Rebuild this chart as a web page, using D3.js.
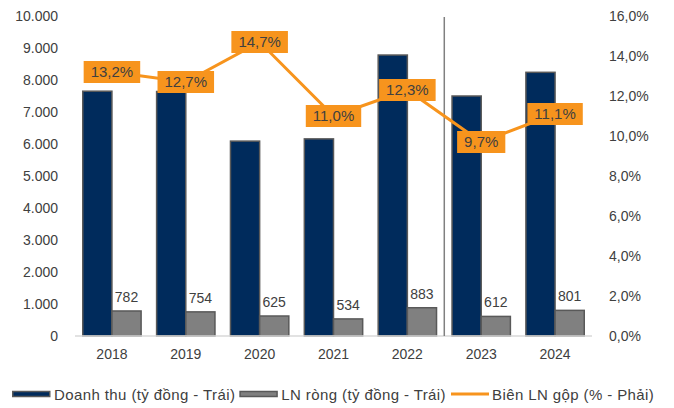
<!DOCTYPE html>
<html>
<head>
<meta charset="utf-8">
<script src="https://cdn.jsdelivr.net/npm/d3@7"></script>
<style>
  body { margin: 0; background: #fff; }
  svg { font-family: "Liberation Sans", Arial, sans-serif; }
</style>
</head>
<body>
<div id="chart"></div>
<script>
// data
var years = ["2018", "2019", "2020", "2021", "2022", "2023", "2024"];
var revenue = [7650, 7640, 6090, 6160, 8780, 7500, 8240];
var netProfit = [782, 754, 625, 534, 883, 612, 801];
var grossMargin = [13.2, 12.7, 14.7, 11.0, 12.3, 9.7, 11.1];
var leftTicks = [0, 1000, 2000, 3000, 4000, 5000, 6000, 7000, 8000, 9000, 10000];
var rightTicks = [0, 2, 4, 6, 8, 10, 12, 14, 16];
var legendItems = ["Doanh thu (tỷ đồng - Trái)", "LN ròng (tỷ đồng - Trái)", "Biên LN gộp (% - Phải)"];

var W = 674, H = 408;
var margin = { top: 16, left: 75, right: 82, bottom: 72 };
var width = W - margin.left - margin.right,
  height = H - margin.top - margin.bottom;

var textCol = "#404040";
var navy = "#002b5c", grey = "#808080", orange = "#f7941d";

var svg = d3.select("#chart")
  .append("svg")
  .attr("width", W)
  .attr("height", H);

var g = svg.append("g")
  .attr("transform", "translate(" + margin.left + "," + margin.top + ")");

var x = d3.scaleBand()
  .domain(years)
  .range([0, width])
  .paddingInner(0.21)
  .paddingOuter(0.105);

var sub = d3.scaleBand()
  .domain(["rev", "np"])
  .range([0, x.bandwidth()]);

var yL = d3.scaleLinear().domain([0, 10000]).range([height, 0]);
var yR = d3.scaleLinear().domain([0, 16]).range([height, 0]);

// left axis
var fmtL = function (d) { return d3.format(",")(d).replace(/,/g, "."); };
var axL = g.append("g")
  .attr("transform", "translate(-14,0)")
  .call(d3.axisLeft(yL).tickValues(leftTicks).tickFormat(fmtL).tickSize(0));
axL.select(".domain").remove();

// right axis
var fmtR = function (d) { return d3.format(".1f")(d).replace(".", ",") + "%"; };
var axR = g.append("g")
  .attr("transform", "translate(" + (width + 14) + ",0)")
  .call(d3.axisRight(yR).tickValues(rightTicks).tickFormat(fmtR).tickSize(0));
axR.select(".domain").remove();

svg.selectAll(".tick text")
  .attr("fill", textCol)
  .style("font-size", "14px")
  .style("font-family", "Liberation Sans, Arial, sans-serif");

// bars
var groups = g.selectAll(".yr")
  .data(years)
  .enter()
  .append("g")
  .attr("transform", function (d) { return "translate(" + x(d) + ",0)"; });

groups.append("rect")
  .attr("x", sub("rev"))
  .attr("width", sub.bandwidth())
  .attr("y", function (d, i) { return yL(revenue[i]); })
  .attr("height", function (d, i) { return height - yL(revenue[i]); })
  .attr("fill", navy)
  .attr("stroke", "#595959")
  .attr("stroke-width", 1.5);

groups.append("rect")
  .attr("x", sub("np"))
  .attr("width", sub.bandwidth())
  .attr("y", function (d, i) { return yL(netProfit[i]); })
  .attr("height", function (d, i) { return height - yL(netProfit[i]); })
  .attr("fill", grey)
  .attr("stroke", "#595959")
  .attr("stroke-width", 1.5);

groups.append("text")
  .attr("x", sub("np") + sub.bandwidth() / 2)
  .attr("y", function (d, i) { return yL(netProfit[i]) - 9; })
  .attr("text-anchor", "middle")
  .attr("fill", textCol)
  .style("font-size", "14px")
  .text(function (d, i) { return netProfit[i]; });

// baseline
g.append("line")
  .attr("x1", 0).attr("x2", width)
  .attr("y1", height).attr("y2", height)
  .attr("stroke", "#d9d9d9")
  .attr("stroke-width", 1.5);

// separator between actual and forecast
var sepX = x("2023") - x.step() * x.paddingInner() / 2;
g.append("line")
  .attr("x1", sepX).attr("x2", sepX)
  .attr("y1", 1).attr("y2", height)
  .attr("stroke", "#808080")
  .attr("stroke-width", 1.5);

// x labels
g.selectAll(".xl")
  .data(years)
  .enter()
  .append("text")
  .attr("x", function (d) { return x(d) + x.bandwidth() / 2; })
  .attr("y", height + 23)
  .attr("text-anchor", "middle")
  .attr("fill", textCol)
  .style("font-size", "14px")
  .text(function (d) { return d; });

// margin line
var cx = function (d, i) { return x(years[i]) + x.bandwidth() / 2; };
var line = d3.line()
  .x(function (d, i) { return cx(d, i); })
  .y(function (d) { return yR(d); });

g.append("path")
  .datum(grossMargin)
  .attr("d", line)
  .attr("fill", "none")
  .attr("stroke", orange)
  .attr("stroke-width", 3);

var lbl = g.selectAll(".ml")
  .data(grossMargin)
  .enter()
  .append("g")
  .attr("transform", function (d, i) { return "translate(" + cx(d, i) + "," + yR(d) + ")"; });

lbl.append("rect").attr("fill", orange);
lbl.append("text")
  .attr("text-anchor", "middle")
  .attr("dy", "0.36em")
  .attr("fill", textCol)
  .style("font-size", "15px")
  .text(function (d) { return d3.format(".1f")(d).replace(".", ",") + "%"; });

lbl.each(function () {
  var t = d3.select(this).select("text").node().getComputedTextLength();
  d3.select(this).select("rect")
    .attr("x", -t / 2 - 7)
    .attr("y", -11)
    .attr("width", t + 14)
    .attr("height", 22);
});

// legend
var lg = svg.append("g").attr("transform", "translate(12,394)");
var lx = 0;
legendItems.forEach(function (name, i) {
  if (i < 2) {
    lg.append("rect")
      .attr("x", lx + 0.75).attr("y", -2.5)
      .attr("width", 37).attr("height", 5)
      .attr("fill", i == 0 ? navy : grey)
      .attr("stroke", "#595959")
      .attr("stroke-width", 1.5);
  } else {
    lg.append("line")
      .attr("x1", lx + 1).attr("x2", lx + 39)
      .attr("y1", 0).attr("y2", 0)
      .attr("stroke", orange)
      .attr("stroke-width", 3);
  }
  var t = lg.append("text")
    .attr("x", lx + 42)
    .attr("y", 1)
    .attr("dy", "0.36em")
    .attr("fill", textCol)
    .style("font-size", "15px")
    .style("letter-spacing", "0.4px")
    .text(name);
  lx += 42 + t.node().getComputedTextLength() + 4;
});
</script>
</body>
</html>
